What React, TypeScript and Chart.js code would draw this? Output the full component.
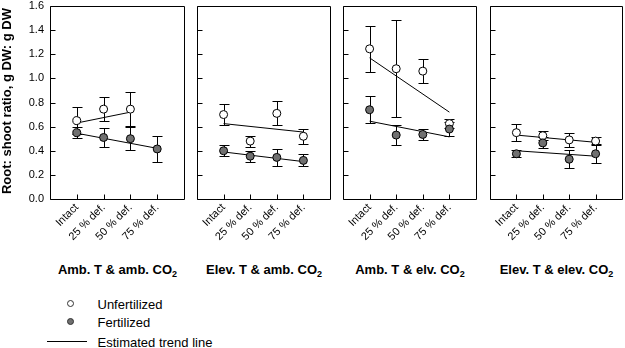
import React, { useEffect, useRef } from 'react';
import { Chart, registerables } from 'chart.js';

Chart.register(...registerables);

const FONT = "'Liberation Sans', Arial, Helvetica, sans-serif";

// ---- data ----
const categories = ['Intact', '25 % def.', '50 % def.', '75 % def.'];
const yTicks = [0, 0.2, 0.4, 0.6, 0.8, 1.0, 1.2, 1.4, 1.6];
const panelTitles = ['Amb. T & amb. CO', 'Elev. T & amb. CO', 'Amb. T & elv. CO', 'Elev. T & elev. CO'];

// Panel 1: Amb. T & amb. CO2
const unfert1 = [0.65, 0.745, 0.745, null];
const unfertErr1 = [0.11, 0.1, 0.14, null];
const fert1 = [0.55, 0.51, 0.5, 0.415];
const fertErr1 = [0.047, 0.075, 0.095, 0.105];
const trendUnfertX1 = [0, 2];
const trendUnfert1 = [0.63, 0.72];
const trendFertX1 = [0, 3];
const trendFert1 = [0.545, 0.42];

// Panel 2: Elev. T & amb. CO2
const unfert2 = [0.7, 0.48, 0.71, 0.52];
const unfertErr2 = [0.09, 0.045, 0.1, 0.06];
const fert2 = [0.4, 0.355, 0.345, 0.32];
const fertErr2 = [0.045, 0.045, 0.07, 0.05];
const trendUnfertX2 = [0, 3];
const trendUnfert2 = [0.625, 0.555];
const trendFertX2 = [0, 3];
const trendFert2 = [0.39, 0.31];

// Panel 3: Amb. T & elv. CO2
const unfert3 = [1.245, 1.08, 1.06, 0.625];
const unfertErr3 = [0.19, 0.4, 0.1, 0.04];
const fert3 = [0.74, 0.53, 0.535, 0.58];
const fertErr3 = [0.11, 0.085, 0.045, 0.06];
const trendUnfertX3 = [0, 3];
const trendUnfert3 = [1.17, 0.72];
const trendFertX3 = [0, 3];
const trendFert3 = [0.645, 0.515];

// Panel 4: Elev. T & elev. CO2
const unfert4 = [0.55, 0.525, 0.49, 0.48];
const unfertErr4 = [0.07, 0.035, 0.055, 0.03];
const fert4 = [0.375, 0.465, 0.33, 0.375];
const fertErr4 = [0.03, 0.045, 0.075, 0.08];
const trendUnfertX4 = [0, 3];
const trendUnfert4 = [0.53, 0.47];
const trendFertX4 = [0, 3];
const trendFert4 = [0.4, 0.355];

const panels = [
  { unfert: unfert1, unfertErr: unfertErr1, fert: fert1, fertErr: fertErr1, tuX: trendUnfertX1, tu: trendUnfert1, tfX: trendFertX1, tf: trendFert1 },
  { unfert: unfert2, unfertErr: unfertErr2, fert: fert2, fertErr: fertErr2, tuX: trendUnfertX2, tu: trendUnfert2, tfX: trendFertX2, tf: trendFert2 },
  { unfert: unfert3, unfertErr: unfertErr3, fert: fert3, fertErr: fertErr3, tuX: trendUnfertX3, tu: trendUnfert3, tfX: trendFertX3, tf: trendFert3 },
  { unfert: unfert4, unfertErr: unfertErr4, fert: fert4, fertErr: fertErr4, tuX: trendUnfertX4, tu: trendUnfert4, tfX: trendFertX4, tf: trendFert4 },
];

// ---- layout ----
const panelLefts = [50, 197, 343, 490];
const panelRights = [185, 331, 477, 623];
const AXIS_W = 36;
const PAD_R = 4;
const CANVAS_TOP = -10;
const CANVAS_H = 269;

const FERT_COLOR = '#707070';

const framePlugin = {
  id: 'frameAndErrors',
  beforeDatasetsDraw(chart: any, _args: any, opts: any) {
    const { ctx } = chart;
    const x = chart.scales.x;
    const y = chart.scales.y;
    ctx.save();
    ctx.strokeStyle = '#000';
    ctx.lineWidth = 1;
    for (const s of opts.series || []) {
      s.values.forEach((v: number | null, i: number) => {
        if (v == null) return;
        const e = s.errors[i] ?? 0;
        const px = Math.round(x.getPixelForValue(i)) + 0.5;
        const yt = Math.round(y.getPixelForValue(v + e)) + 0.5;
        const yb = Math.round(y.getPixelForValue(v - e)) + 0.5;
        ctx.beginPath();
        ctx.moveTo(px, yt);
        ctx.lineTo(px, yb);
        ctx.moveTo(px - 5, yt);
        ctx.lineTo(px + 5, yt);
        ctx.moveTo(px - 5, yb);
        ctx.lineTo(px + 5, yb);
        ctx.stroke();
      });
    }
    ctx.restore();
  },
  afterDraw(chart: any) {
    const { ctx, chartArea } = chart;
    const x = chart.scales.x;
    const y = chart.scales.y;
    const l = Math.round(chartArea.left) + 0.5;
    const r = Math.round(chartArea.right) + 0.5;
    const t = Math.round(chartArea.top) + 0.5;
    const b = Math.round(chartArea.bottom) + 0.5;
    ctx.save();
    ctx.strokeStyle = '#000';
    ctx.lineWidth = 1;
    ctx.beginPath();
    ctx.rect(l, t, r - l, b - t);
    yTicks.forEach((v) => {
      const py = Math.round(y.getPixelForValue(v)) + 0.5;
      ctx.moveTo(l, py);
      ctx.lineTo(l + 5, py);
    });
    categories.forEach((_c, i) => {
      const px = Math.round(x.getPixelForValue(i)) + 0.5;
      ctx.moveTo(px, b);
      ctx.lineTo(px, b - 5);
    });
    ctx.stroke();
    ctx.restore();
  },
};

function toPoints(vals: (number | null)[], xs?: number[]) {
  const out: { x: number; y: number }[] = [];
  vals.forEach((v, i) => {
    if (v != null) out.push({ x: xs ? xs[i] : i, y: v });
  });
  return out;
}

function Panel({ index }: { index: number }) {
  const ref = useRef<HTMLCanvasElement | null>(null);
  const p = panels[index];
  const width = panelRights[index] - panelLefts[index] + AXIS_W + PAD_R;
  useEffect(() => {
    if (!ref.current) return;
    const chart = new Chart(ref.current, {
      type: 'scatter',
      data: {
        datasets: [
          {
            label: 'Fertilized',
            data: toPoints(p.fert),
            showLine: false,
            pointRadius: 4,
            pointBackgroundColor: FERT_COLOR,
            pointBorderColor: '#000',
            pointBorderWidth: 1,
            order: 0,
          } as any,
          {
            label: 'Unfertilized',
            data: toPoints(p.unfert),
            showLine: false,
            pointRadius: 4,
            pointBackgroundColor: '#fff',
            pointBorderColor: '#000',
            pointBorderWidth: 1,
            order: 1,
          },
          {
            type: 'line',
            label: 'Trend unfertilized',
            data: toPoints(p.tu, p.tuX),
            borderColor: '#000',
            borderWidth: 1,
            pointRadius: 0,
            fill: false,
            order: 2,
          },
          {
            type: 'line',
            label: 'Trend fertilized',
            data: toPoints(p.tf, p.tfX),
            borderColor: '#000',
            borderWidth: 1,
            pointRadius: 0,
            fill: false,
            order: 2,
          },
        ],
      },
      options: {
        responsive: false,
        animation: false,
        layout: { padding: { top: 16, right: PAD_R, left: 0, bottom: 0 } },
        plugins: {
          legend: { display: false },
          tooltip: { enabled: false },
          frameAndErrors: {
            series: [
              { values: p.unfert, errors: p.unfertErr },
              { values: p.fert, errors: p.fertErr },
            ],
          },
        } as any,
        scales: {
          x: {
            type: 'linear',
            min: -1,
            max: 4,
            afterBuildTicks: (s: any) => {
              s.ticks = categories.map((_c, i) => ({ value: i }));
            },
            afterFit: (s: any) => {
              s.height = 60;
            },
            ticks: {
              callback: (v: any) => categories[v as number],
              minRotation: 45,
              maxRotation: 45,
              autoSkip: false,
              padding: 2,
              color: '#000',
              font: { family: FONT, size: 11 },
            },
            grid: { display: false, drawTicks: false },
            border: { display: false },
          },
          y: {
            type: 'linear',
            min: 0,
            max: 1.6,
            afterBuildTicks: (s: any) => {
              s.ticks = yTicks.map((v) => ({ value: v }));
            },
            afterFit: (s: any) => {
              s.width = AXIS_W;
            },
            ticks: {
              display: index === 0,
              callback: (v: any) => Number(v).toFixed(1),
              padding: 6,
              color: '#000',
              font: { family: FONT, size: 11 },
            },
            grid: { display: false, drawTicks: false },
            border: { display: false },
          },
        },
      },
      plugins: [framePlugin],
    });
    return () => chart.destroy();
  }, [index]);
  return (
    <canvas
      ref={ref}
      width={width}
      height={CANVAS_H}
      style={{
        position: 'absolute',
        left: panelLefts[index] - AXIS_W,
        top: CANVAS_TOP,
        width,
        height: CANVAS_H,
      }}
    />
  );
}

export default function App() {
  return (
    <div
      style={{
        position: 'absolute',
        left: 0,
        top: 0,
        width: 625,
        height: 348,
        overflow: 'hidden',
        background: '#fff',
        fontFamily: FONT,
        color: '#000',
      }}
    >
      {panels.map((_p, i) => (
        <Panel key={i} index={i} />
      ))}
      <div
        style={{
          position: 'absolute',
          left: 6.5 - 100,
          top: 101 - 8,
          width: 200,
          height: 16,
          lineHeight: '16px',
          textAlign: 'center',
          transform: 'rotate(-90deg)',
          fontWeight: 'bold',
          fontSize: 13,
          whiteSpace: 'nowrap',
        }}
      >
        Root: shoot ratio, g DW: g DW
      </div>
      {panelTitles.map((t, i) => (
        <div
          key={i}
          style={{
            position: 'absolute',
            left: panelLefts[i] - 20,
            width: panelRights[i] - panelLefts[i] + 40,
            top: 262,
            lineHeight: '15px',
            textAlign: 'center',
            fontWeight: 'bold',
            fontSize: 13,
            whiteSpace: 'nowrap',
          }}
        >
          {t}
          <span style={{ fontSize: 9, position: 'relative', top: 3 }}>2</span>
        </div>
      ))}
      <div
        style={{
          position: 'absolute',
          left: 67,
          top: 299.5,
          width: 7,
          height: 7,
          borderRadius: '50%',
          border: '1px solid #333',
          background: '#fff',
          boxSizing: 'border-box',
        }}
      />
      <div style={{ position: 'absolute', left: 97.5, top: 297, fontSize: 13, lineHeight: '15px', whiteSpace: 'nowrap' }}>
        Unfertilized
      </div>
      <div
        style={{
          position: 'absolute',
          left: 67,
          top: 318,
          width: 7,
          height: 7,
          borderRadius: '50%',
          border: '1px solid #333',
          background: FERT_COLOR,
          boxSizing: 'border-box',
        }}
      />
      <div style={{ position: 'absolute', left: 97.5, top: 315, fontSize: 13, lineHeight: '15px', whiteSpace: 'nowrap' }}>
        Fertilized
      </div>
      <div style={{ position: 'absolute', left: 47, top: 341, width: 40, height: 1, background: '#000' }} />
      <div style={{ position: 'absolute', left: 97.5, top: 335, fontSize: 13, lineHeight: '15px', whiteSpace: 'nowrap' }}>
        Estimated trend line
      </div>
    </div>
  );
}
